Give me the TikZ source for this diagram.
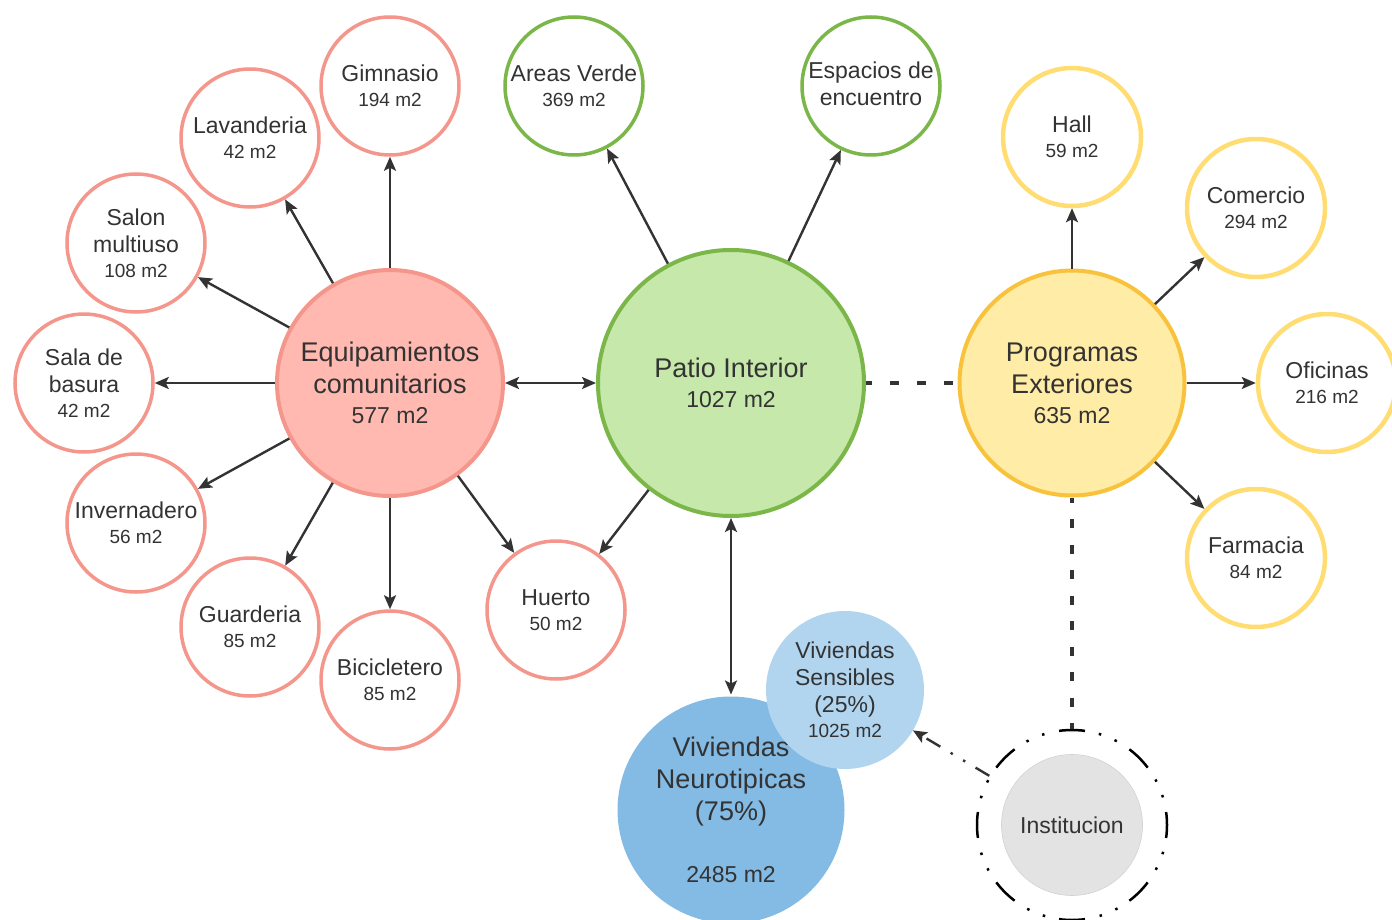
\documentclass[tikz,border=0pt]{standalone}
\usepackage{fontspec}
\setmainfont{Liberation Sans}
\usetikzlibrary{arrows.meta}
\definecolor{txt}{HTML}{333333}
\definecolor{linec}{HTML}{333333}
\definecolor{pinkb}{HTML}{F4968B}
\definecolor{pinkf}{HTML}{FFB9B0}
\definecolor{greenb}{HTML}{7AB648}
\definecolor{greenf}{HTML}{C6E8AB}
\definecolor{yellowb}{HTML}{FFDD72}
\definecolor{yellowbb}{HTML}{F8C23D}
\definecolor{yellowf}{HTML}{FFECA6}
\definecolor{neurof}{HTML}{84BBE4}
\definecolor{sensf}{HTML}{B2D5EF}
\definecolor{instf}{HTML}{E3E3E3}
\definecolor{instb}{HTML}{D2D2D2}
\newcommand\areatxt[1]{{\fontsize{19}{22}\selectfont #1}}
\newcommand\bigareatxt[1]{{\fontsize{23}{27}\selectfont #1}}
\begin{document}
\begin{tikzpicture}[x=1pt,y=-1pt,
  bub/.style={circle, minimum size=138pt, inner sep=0pt, line width=3.5pt, fill=white, text=txt, align=center, font=\fontsize{23}{27}\selectfont},
  pinkc/.style={bub, draw=pinkb},
  greenc/.style={bub, draw=greenb},
  yellowc/.style={bub, draw=yellowb, line width=4.5pt},
  bigc/.style={circle, inner sep=0pt, line width=4pt, text=txt, align=center, font=\fontsize{27}{32}\selectfont},
  arr/.style={draw=linec, line width=2.4pt, -{Stealth[length=14pt,width=12pt,inset=3pt]}},
  darr/.style={draw=linec, line width=2.4pt, {Stealth[length=14pt,width=12pt,inset=3pt]}-{Stealth[length=14pt,width=12pt,inset=3pt]}},
  dline/.style={draw=linec, line width=3.5pt, dash pattern=on 9pt off 18pt}
]
\useasboundingbox (0,0) rectangle (1392,920);

% big circles
\node[bigc, draw=pinkb, fill=pinkf, minimum size=226pt] (eq) at (390,383) {Equipamientos\\comunitarios\\[-2pt]\bigareatxt{577 m2}};
\node[bigc, draw=greenb, fill=greenf, minimum size=266pt] (patio) at (731,383) {Patio Interior\\[-2pt]\bigareatxt{1027 m2}};
\node[bigc, draw=yellowbb, fill=yellowf, minimum size=225pt] (prog) at (1072,383) {Programas\\Exteriores\\[-2pt]\bigareatxt{635 m2}};

% pink satellites
\node[pinkc] (gim) at (390,86) {Gimnasio\\[-2pt]\areatxt{194 m2}};
\node[pinkc] (lav) at (250,138) {Lavanderia\\[-2pt]\areatxt{42 m2}};
\node[pinkc] (salon) at (136,243) {Salon\\multiuso\\[-2pt]\areatxt{108 m2}};
\node[pinkc] (sala) at (84,383) {Sala de\\basura\\[-2pt]\areatxt{42 m2}};
\node[pinkc] (inv) at (136,523) {Invernadero\\[-2pt]\areatxt{56 m2}};
\node[pinkc] (guard) at (250,627) {Guarderia\\[-2pt]\areatxt{85 m2}};
\node[pinkc] (bici) at (390,680) {Bicicletero\\[-2pt]\areatxt{85 m2}};
\node[pinkc] (huerto) at (556,610) {Huerto\\[-2pt]\areatxt{50 m2}};

% green satellites
\node[greenc] (areas) at (574,86) {Areas Verde\\[-2pt]\areatxt{369 m2}};
\node[greenc, text depth=4pt] (esp) at (871,86) {Espacios de\\encuentro};

% yellow satellites
\node[yellowc] (hall) at (1072,137) {Hall\\[-2pt]\areatxt{59 m2}};
\node[yellowc] (com) at (1256,208) {Comercio\\[-2pt]\areatxt{294 m2}};
\node[yellowc] (ofi) at (1327,383) {Oficinas\\[-2pt]\areatxt{216 m2}};
\node[yellowc] (farm) at (1256,558) {Farmacia\\[-2pt]\areatxt{84 m2}};

% viviendas
\node[bigc, fill=neurof, minimum size=227pt] (neuro) at (731,810) {Viviendas\\Neurotipicas\\(75\%)\\[30pt]\bigareatxt{2485 m2}};
\node[bub, fill=sensf, line width=0pt, minimum size=158pt] (sens) at (845,690) {Viviendas\\Sensibles\\(25\%)\\[-2pt]\areatxt{1025 m2}};

% institucion
\node[circle, inner sep=0pt, minimum size=141pt, fill=instf, draw=instb, line width=0.6pt, text=txt, font=\fontsize{23}{27}\selectfont] (inst) at (1072,825) {Institucion};
\node[circle, inner sep=0pt, minimum size=190pt, draw=black, line width=2.5pt,
  dash pattern=on 26pt off 15pt on 2.5pt off 14.5pt on 2.5pt off 14.11pt, dash phase=13pt] (ring) at (1072,825) {};

% connectors
\draw[arr] (eq) -- (gim);
\draw[arr] (eq) -- (lav);
\draw[arr] (eq) -- (salon);
\draw[arr] (eq) -- (sala);
\draw[arr] (eq) -- (inv);
\draw[arr] (eq) -- (guard);
\draw[arr] (eq) -- (bici);
\draw[arr] (eq) -- (huerto);
\draw[darr] (eq) -- (patio);
\draw[arr] (patio) -- (areas);
\draw[arr] (patio) -- (esp);
\draw[arr] (patio) -- (huerto);
\draw[darr] (patio) -- (neuro);
\draw[dline, dash phase=3pt] (patio) -- (prog);
\draw[arr] (prog) -- (hall);
\draw[arr] (prog) -- (com);
\draw[arr] (prog) -- (ofi);
\draw[arr] (prog) -- (farm);
\draw[dline, dash pattern=on 9pt off 16.5pt, dash phase=4pt] (prog) -- (ring);
\draw[arr, dash pattern=on 16pt off 12pt on 2.5pt off 12pt on 2.5pt off 12pt] (ring) -- (sens);
\end{tikzpicture}
\end{document}
